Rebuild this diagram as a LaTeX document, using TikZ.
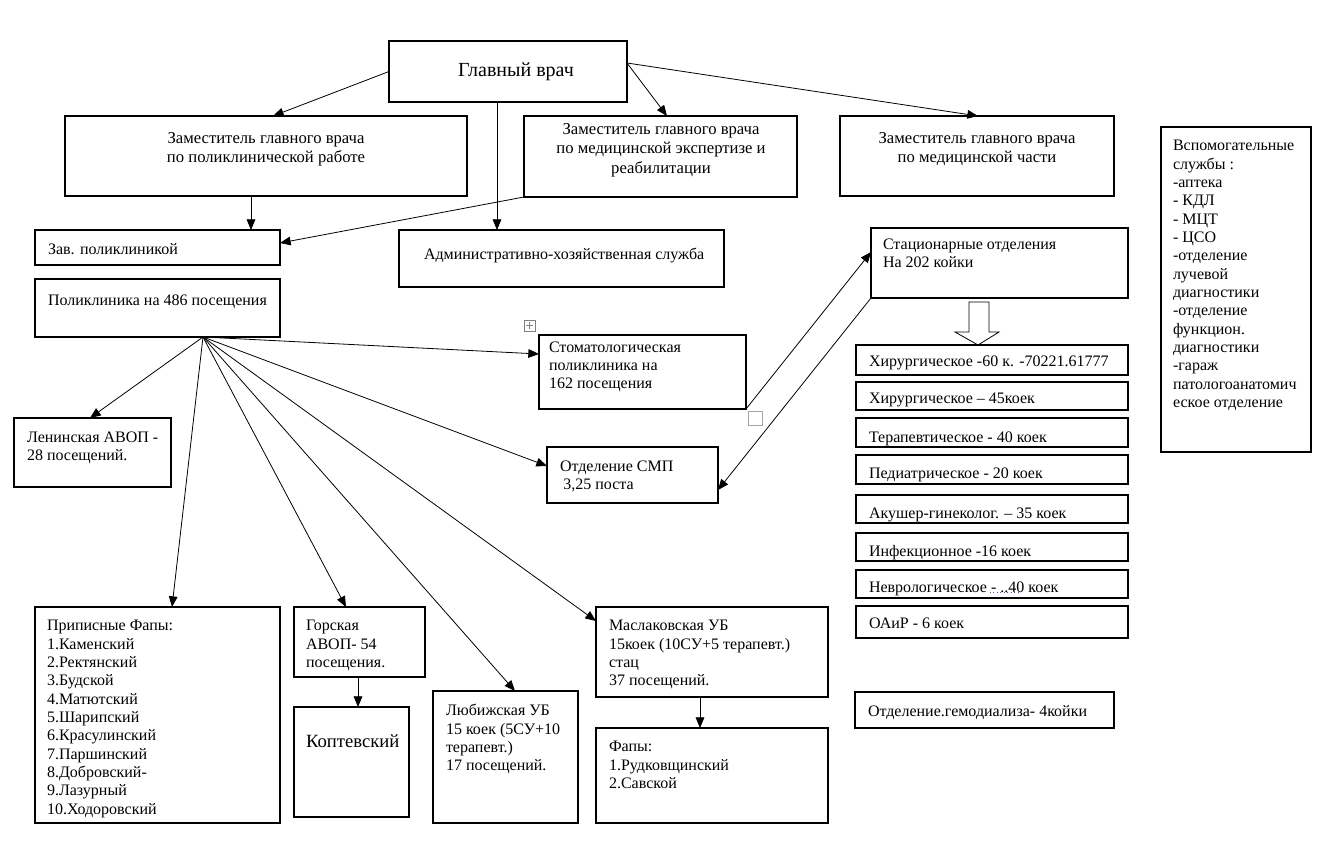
\documentclass[tikz,border=0pt]{standalone}
\usepackage{fontspec}
\setmainfont{Liberation Serif}
\usetikzlibrary{arrows.meta}
\newcommand\fs{\rule{0pt}{10pt}}
\newcommand\bx[5]{\node[box, minimum width={(#4-#2)*0.75pt}, minimum height={(#5-#3)*0.75pt}] (#1) at ({(#2+#4)/2},{(#3+#5)/2}) {};}
\begin{document}
\begin{tikzpicture}[x=0.75pt,y=-0.75pt,
 box/.style={draw, line width=0.8pt, inner sep=0pt, outer sep=0pt},
 txt/.style={inner sep=0pt, outer sep=0pt, anchor=north west, align=left, font=\fontsize{12}{13.75}\selectfont, execute at begin node=\fs, yshift=-2.6pt},
 ctxt/.style={txt, anchor=north, align=center, font=\fontsize{12.5}{14.6}\selectfont},
 arr/.style={-{Triangle[length=8pt,width=6.5pt]}, line width=0.6pt},
 icon/.style={gray, line width=0.5pt}
]
\useasboundingbox (0,0) rectangle (1324,852);
% boxes
\bx{gv}{389}{41}{627}{102}
\bx{zp}{65}{116}{467}{196}
\bx{ze}{524}{116}{797}{197}
\bx{zm}{840}{116}{1114}{196}
\bx{vsp}{1161}{127}{1311}{452}
\bx{zav}{35}{230}{280}{265}
\bx{adm}{399}{230}{724}{287}
\bx{stac}{871}{228}{1128}{298}
\bx{pol}{35}{279}{280}{337}
\bx{stom}{539}{335}{746}{409}
\bx{len}{14}{418}{171}{487}
\bx{smp}{547}{447}{718}{503}
\bx{h1}{856}{345}{1128}{375}
\bx{h2}{856}{382}{1128}{410}
\bx{h3}{856}{418}{1128}{447}
\bx{h4}{856}{455}{1128}{484}
\bx{h5}{856}{495}{1128}{523}
\bx{h6}{856}{533}{1128}{561}
\bx{h7}{856}{570}{1128}{598}
\bx{h8}{856}{606}{1128}{638}
\bx{hemo}{855}{692}{1114}{728}
\bx{prip}{35}{607}{280}{823}
\bx{gor}{294}{607}{425}{677}
\bx{kop}{294}{707}{409}{817}
\bx{lub}{433}{691}{578}{823}
\bx{masl}{596}{607}{828}{697}
\bx{fap}{596}{728}{828}{823}
% texts
\node[inner sep=0pt, font=\fontsize{15}{17}\selectfont] (tgv) at (516,72) {Главный врач};
\node[ctxt] (tzp) at (266,129) {Заместитель главного врача\\по поликлинической работе};
\node[ctxt] (tze) at (661,120) {Заместитель главного врача\\по медицинской экспертизе и\\реабилитации};
\node[ctxt] (tzm) at (977,129) {Заместитель главного врача\\по медицинской части};
\node[txt] (tvsp) at (1173,137) {Вспомогательные\\службы :\\-аптека\\- КДЛ\\- МЦТ\\- ЦСО\\-отделение\\лучевой\\диагностики\\-отделение\\функцион.\\диагностики\\-гараж\\патологоанатомич\\еское отделение};
\node[txt] (tzav) at (48,238) {Зав. поликлиникой};
\node[txt] (tadm) at (424,243) {Административно-хозяйственная служба};
\node[txt] (tstac) at (883,235) {Стационарные отделения\\На 202 койки};
\node[txt] (tpol) at (48,289) {Поликлиника на 486 посещения};
\node[txt] (tstom) at (549,338) {Стоматологическая\\поликлиника на\\162 посещения};
\node[txt] (tlen) at (27,428) {Ленинская АВОП -\\28 посещений.};
\node[txt] (tsmp) at (560,457) {Отделение СМП\\\hspace{2.5pt}3,25 поста};
\node[txt] (th1) at (869,350) {Хирургическое -60 к. -70221.61777};
\node[txt] (th2) at (869,387) {Хирургическое – 45коек};
\node[txt] (th3) at (869,426) {Терапевтическое - 40 коек};
\node[txt] (th4) at (869,462) {Педиатрическое - 20 коек};
\node[txt] (th5) at (869,502) {Акушер-гинеколог. – 35 коек};
\node[txt] (th6) at (869,540) {Инфекционное -16 коек};
\node[txt] (th7) at (869,576) {Неврологическое - ..40 коек};
\node[txt] (th8) at (869,612) {ОАиР - 6 коек};
\node[txt] (themo) at (868,700) {Отделение.гемодиализа- 4койки};
\node[txt] (tprip) at (47,617) {Приписные Фапы:\\1.Каменский\\2.Ректянский\\3.Будской\\4.Матютский\\5.Шарипский\\6.Красулинский\\7.Паршинский\\8.Добровский-\\9.Лазурный\\10.Ходоровский};
\node[txt] (tgor) at (306,617) {Горская\\АВОП- 54\\посещения.};
\node[txt, font=\fontsize{14}{16}\selectfont] (tkop) at (306,731) {Коптевский};
\node[txt] (tlub) at (446,701) {Любижская УБ\\15 коек (5СУ+10\\терапевт.)\\17 посещений.};
\node[txt] (tmasl) at (609,617) {Маслаковская УБ\\15коек (10СУ+5 терапевт.)\\стац\\37 посещений.};
\node[txt] (tfap) at (609,738) {Фапы:\\1.Рудковщинский\\2.Савской};
% dotted underline
\draw[blue!70, dotted, line width=0.6pt] (990,592) -- (1018,592);
% connectors
\draw[arr] (gv.west) -- (zp.north -| 273,0);
\draw[arr] (gv.east |- 0,63) -- (ze.north -| 667,0);
\draw[arr] (gv.east |- 0,63) -- (zm.north -| 978,0);
\draw[arr] (gv.south -| 497,0) -- (adm.north -| 497,0);
\draw[arr] (zp.south -| 251,0) -- (zav.north -| 251,0);
\draw[arr] (ze.south west) -- (zav.east |- 0,243);
\coordinate (hub) at (pol.south -| 203,0);
\draw[arr] (hub) -- (len.north -| 90,0);
\draw[arr] (hub) -- (prip.north -| 172,0);
\draw[arr] (hub) -- (gor.north -| 346,0);
\draw[arr] (hub) -- (lub.north -| 515,0);
\draw[arr] (hub) -- (masl.west |- 0,621);
\draw[arr] (hub) -- (smp.west |- 0,466);
\draw[arr] (hub) -- (stom.west |- 0,354);
\draw[arr] (stom.south east) -- (stac.west |- 0,252);
\draw[arr] (stac.south west) -- (smp.east |- 0,490);
\draw[arr] (gor.south -| 358,0) -- (kop.north -| 358,0);
\draw[arr] (masl.south -| 700,0) -- (fap.north -| 700,0);
% hollow block arrow
\draw[line width=0.6pt] (969,302) -- (989,302) -- (989,332) -- (999,332) -- (978,345) -- (955,332) -- (969,332) -- cycle;
% word icons
\draw[icon] (524,320) rectangle (535,331);
\draw[icon] (526,325.5) -- (533,325.5) (529.5,322) -- (529.5,329);
\draw[icon, gray!70, line width=0.6pt] (748,411) rectangle (762,425);
\end{tikzpicture}
\end{document}
